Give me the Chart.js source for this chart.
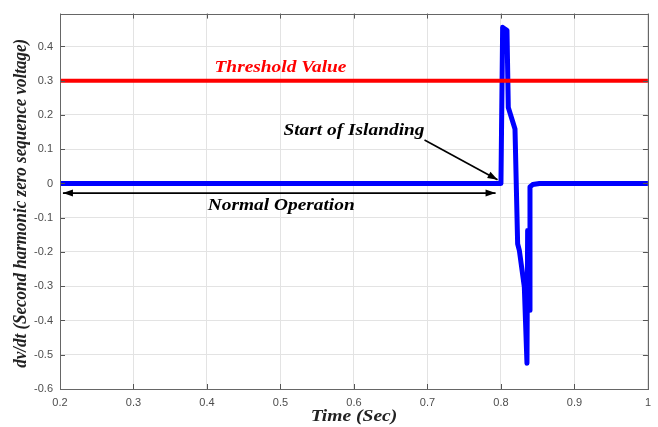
<!DOCTYPE html>
<html>
<head>
<meta charset="utf-8">
<script src="https://cdn.jsdelivr.net/npm/chart.js@4.4.1/dist/chart.umd.min.js"></script>
<style>
  html, body { margin: 0; padding: 0; background: #fff; }
  #wrap { width: 658px; height: 427px; }
</style>
</head>
<body>
<div id="wrap"><canvas id="myChart" width="658" height="427"></canvas></div>
<script>
// values
const timeSec = [0.2, 0.8, 0.8023, 0.8045, 0.8082, 0.81, 0.8191, 0.8227, 0.825, 0.8318, 0.8354, 0.8363, 0.8386, 0.8395, 0.8432, 0.8523, 1.0];
const dvdt = [0, 0, 0.456, 0.452, 0.447, 0.222, 0.159, -0.176, -0.195, -0.302, -0.525, -0.137, -0.37, -0.01, -0.003, 0, 0];
const thresholdValue = 0.3;
const xTicks = [0.2, 0.3, 0.4, 0.5, 0.6, 0.7, 0.8, 0.9, 1];
const yTicks = [-0.6, -0.5, -0.4, -0.3, -0.2, -0.1, 0, 0.1, 0.2, 0.3, 0.4];
const yMax = 0.496;

const serif = '"Liberation Serif", "Times New Roman", serif';
const sans = '"Liberation Sans", Arial, sans-serif';

// text + arrows (positions in data units)
const notes = [
  { text: 'Threshold Value', x: 0.5, y: 0.339, color: '#ff0000' },
  { text: 'Start of Islanding', x: 0.6, y: 0.155, color: '#000' },
  { text: 'Normal Operation', x: 0.501, y: -0.064, color: '#000' },
];

// the original figure is a bit stretched sideways, so stretch the text too
function wideText(ctx, text, cx, cy, rot, sx, sy) {
  ctx.save();
  ctx.translate(cx, cy);
  ctx.rotate(rot);
  ctx.scale(sx, sy);
  ctx.fillText(text, 0, 0);
  ctx.restore();
}

function arrowHead(ctx, x1, y1, x2, y2) {
  const a = Math.atan2(y2 - y1, x2 - x1);
  const len = 10, w = 3.5;
  ctx.beginPath();
  ctx.moveTo(x2, y2);
  ctx.lineTo(x2 - len * Math.cos(a) + w * Math.sin(a), y2 - len * Math.sin(a) - w * Math.cos(a));
  ctx.lineTo(x2 - len * Math.cos(a) - w * Math.sin(a), y2 - len * Math.sin(a) + w * Math.cos(a));
  ctx.closePath();
  ctx.fill();
}

const annotatePlugin = {
  id: 'annotate',
  afterDatasetsDraw(chart) {
    const { ctx, chartArea: ca, scales: { x, y } } = chart;
    ctx.save();
    // inner ticks
    ctx.strokeStyle = '#555';
    ctx.lineWidth = 1;
    xTicks.forEach(t => {
      const px = Math.round(x.getPixelForValue(t)) + 0.5;
      ctx.beginPath();
      ctx.moveTo(px, ca.bottom); ctx.lineTo(px, ca.bottom - 5);
      ctx.moveTo(px, ca.top); ctx.lineTo(px, ca.top + 5);
      ctx.stroke();
    });
    yTicks.forEach(t => {
      const py = Math.round(y.getPixelForValue(t)) + 0.5;
      ctx.beginPath();
      ctx.moveTo(ca.left, py); ctx.lineTo(ca.left + 5, py);
      ctx.moveTo(ca.right, py); ctx.lineTo(ca.right - 5, py);
      ctx.stroke();
    });
    // box
    ctx.strokeStyle = '#666';
    ctx.strokeRect(Math.round(ca.left) + 0.5, Math.round(ca.top) + 0.5,
      Math.round(ca.right - ca.left), Math.round(ca.bottom - ca.top));

    // labels
    ctx.font = 'italic bold 17px ' + serif;
    ctx.textAlign = 'center';
    ctx.textBaseline = 'middle';
    notes.forEach(n => {
      ctx.fillStyle = n.color;
      wideText(ctx, n.text, x.getPixelForValue(n.x), y.getPixelForValue(n.y), 0, 1.14, 1);
    });

    // axis titles
    ctx.fillStyle = '#222';
    wideText(ctx, 'Time (Sec)', (ca.left + ca.right) / 2, 417, 0, 1.15, 1);
    wideText(ctx, 'dv/dt (Second harmonic zero sequence voltage)', 21, (ca.top + ca.bottom) / 2 + 2, -Math.PI / 2, 1.0, 1.12);

    // arrows
    ctx.strokeStyle = '#000';
    ctx.fillStyle = '#000';
    ctx.lineWidth = 1.6;
    let x1 = x.getPixelForValue(0.696), y1 = y.getPixelForValue(0.127);
    let x2 = x.getPixelForValue(0.7954), y2 = y.getPixelForValue(0.011);
    ctx.beginPath(); ctx.moveTo(x1, y1); ctx.lineTo(x2, y2); ctx.stroke();
    arrowHead(ctx, x1, y1, x2, y2);

    x1 = x.getPixelForValue(0.204); x2 = x.getPixelForValue(0.7927);
    y1 = y2 = y.getPixelForValue(-0.028);
    ctx.beginPath(); ctx.moveTo(x1, y1); ctx.lineTo(x2, y2); ctx.stroke();
    arrowHead(ctx, x1, y1, x2, y2);
    arrowHead(ctx, x2, y2, x1, y1);
    ctx.restore();
  }
};

const data = {
  datasets: [
    {
      label: 'Threshold',
      data: [{ x: xTicks[0], y: thresholdValue }, { x: xTicks[xTicks.length - 1], y: thresholdValue }],
      borderColor: '#ff0000',
      borderWidth: 4,
      pointRadius: 0,
      showLine: true,
    },
    {
      label: 'dv/dt',
      data: timeSec.map((t, i) => ({ x: t, y: dvdt[i] })),
      borderColor: '#0000ff',
      borderWidth: 5,
      pointRadius: 0,
      showLine: true,
      borderJoinStyle: 'round',
    },
  ],
};

const options = {
  responsive: false,
  animation: false,
  devicePixelRatio: 1,
  layout: { padding: { top: 12, right: 4, left: 0, bottom: 0 } },
  plugins: { legend: { display: false }, tooltip: { enabled: false } },
  scales: {
    x: {
      type: 'linear',
      min: xTicks[0],
      max: xTicks[xTicks.length - 1],
      afterBuildTicks: s => { s.ticks = xTicks.map(v => ({ value: v })); },
      afterFit: s => { s.height = 38; },
      border: { display: false },
      grid: { color: '#e3e3e3', drawTicks: false },
      ticks: {
        padding: 7,
        color: '#4d4d4d',
        font: { family: sans, size: 11 },
        maxRotation: 0,
        callback: v => String(+v.toFixed(1)),
      },
    },
    y: {
      min: yTicks[0],
      max: yMax,
      afterBuildTicks: s => { s.ticks = yTicks.map(v => ({ value: v })); },
      afterFit: s => { s.width = 60; },
      border: { display: false },
      grid: { color: '#e3e3e3', drawTicks: false },
      ticks: {
        padding: 7,
        color: '#4d4d4d',
        font: { family: sans, size: 11 },
        callback: v => String(+v.toFixed(1)),
      },
    },
  },
};

new Chart(document.getElementById('myChart'), {
  type: 'scatter',
  data,
  options,
  plugins: [annotatePlugin],
});
</script>
</body>
</html>
